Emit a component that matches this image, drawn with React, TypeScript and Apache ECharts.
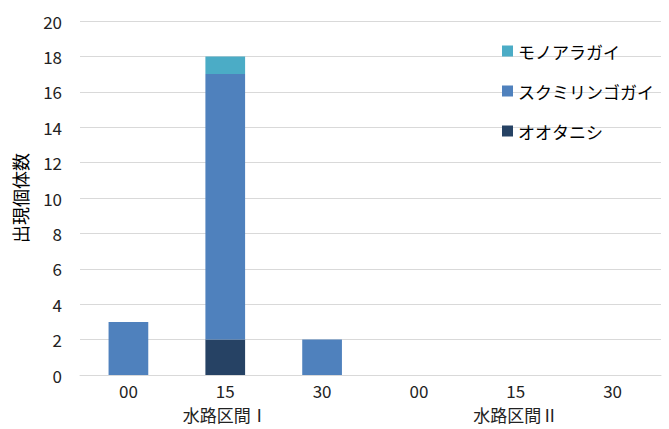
import React, { useEffect, useRef } from "react";
import * as echarts from "echarts";

const categories = ["00", "15", "30", "00", "15", "30"];
const groups = ["水路区間Ⅰ", "水路区間Ⅱ"];
const ootanishi = [0, 2, 0, 0, 0, 0];
const sukumiringogai = [3, 15, 2, 0, 0, 0];
const monoaragai = [0, 1, 0, 0, 0, 0];
const yTicks = { min: 0, max: 20, interval: 2 };

const FONT = "'Noto Sans CJK JP', 'Noto Sans', sans-serif";

export default function App() {
  const ref = useRef<HTMLDivElement>(null);
  useEffect(() => {
    if (!ref.current) return;
    const chart = echarts.init(ref.current, null, { renderer: "svg" });
    const barStyle = (color: string) => ({ color, borderWidth: 0 });
    chart.setOption({
      animation: false,
      textStyle: { fontFamily: FONT },
      grid: { left: 80, right: 8, top: 21, bottom: 54, containLabel: false },
      legend: {
        orient: "vertical",
        left: 497,
        top: 34,
        itemWidth: 11,
        itemHeight: 11,
        itemGap: 16,
        icon: "rect",
        data: ["モノアラガイ", "スクミリンゴガイ", "オオタニシ"],
        textStyle: { fontSize: 17, color: "#000", fontFamily: FONT, lineHeight: 24 },
      },
      xAxis: [
        {
          type: "category",
          data: categories,
          axisLine: { lineStyle: { color: "#D9D9D9" } },
          axisTick: { show: false },
          axisLabel: { fontSize: 17, color: "#222", margin: 7, fontFamily: FONT },
        },
        {
          type: "category",
          data: groups,
          position: "bottom",
          offset: 24,
          axisLine: { show: false },
          axisTick: { show: false },
          axisLabel: { fontSize: 17, color: "#222", margin: 7, fontFamily: FONT },
        },
      ],
      yAxis: {
        type: "value",
        min: yTicks.min,
        max: yTicks.max,
        interval: yTicks.interval,
        name: "出現個体数",
        nameLocation: "middle",
        nameGap: 51,
        nameRotate: 90,
        nameTextStyle: { fontSize: 18, color: "#000", fontFamily: FONT },
        axisLine: { show: false },
        axisTick: { show: false },
        axisLabel: { fontSize: 17, color: "#222", margin: 18, fontFamily: FONT },
        splitLine: { lineStyle: { color: "#D9D9D9" } },
      },
      series: [
        { name: "オオタニシ", type: "bar", stack: "a", barWidth: "41%", data: ootanishi, itemStyle: barStyle("#264264") },
        { name: "スクミリンゴガイ", type: "bar", stack: "a", barWidth: "41%", data: sukumiringogai, itemStyle: barStyle("#4F81BD") },
        { name: "モノアラガイ", type: "bar", stack: "a", barWidth: "41%", data: monoaragai, itemStyle: barStyle("#4BACC6") },
      ],
    });
    return () => chart.dispose();
  }, []);
  return <div ref={ref} style={{ width: 669, height: 429, position: "absolute", left: 0, top: 0 }} />;
}
